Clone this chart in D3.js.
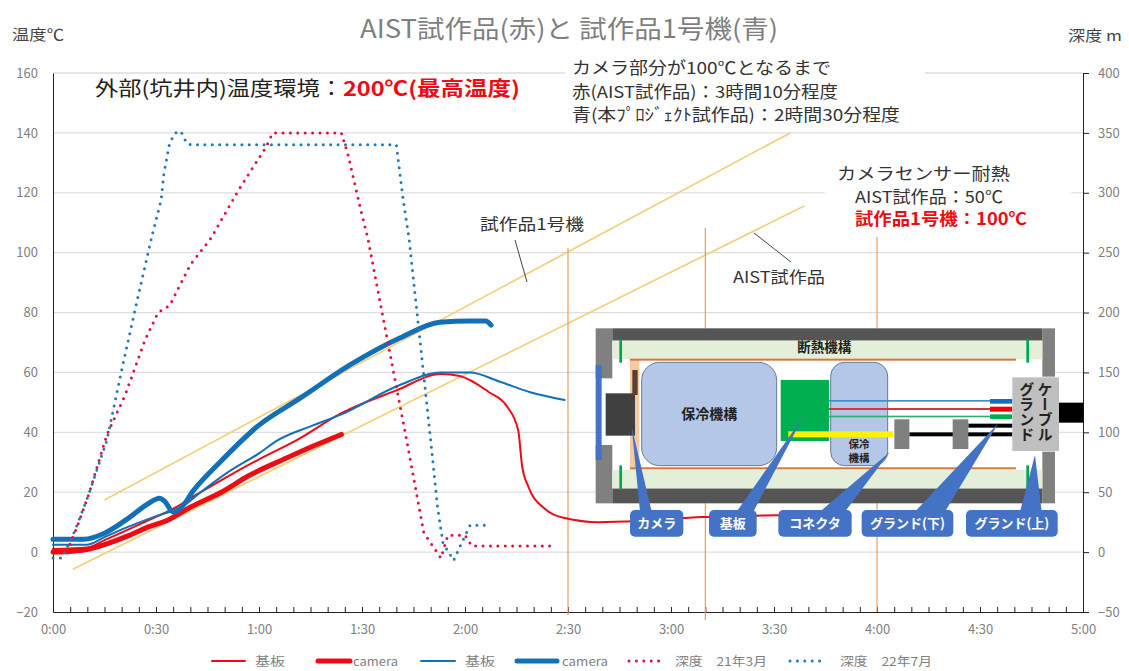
<!DOCTYPE html>
<html><head><meta charset="utf-8">
<script src="https://cdn.jsdelivr.net/npm/d3@7"></script>
<style>html,body{margin:0;background:#fff}svg{display:block}text{font-family:"Noto Sans CJK JP","Noto Sans",sans-serif}</style>
</head><body><svg id="c" width="1129" height="671"></svg>
<script>
// minutes since start / degC
const redBoardT=[0,10,15,26,35,43,52,60,71,84,100,113,118.5,127,132,135.5,136.6,138.4,143,149,159,171,189,217];
const redBoardV=[1,1.5,4,9.7,14.5,20,26,31,37.4,46.4,54,59.5,58.8,53.4,49,40.7,29,22,14.7,11.4,10,10.4,11.7,12.4];
const redCamT=[0,5,9,15,22,28,33,40,49,57,68,76,84];
const redCamV=[0,0.2,0.7,2.5,5.5,8.5,10.5,15,20,25.5,31.4,35.5,39.3];
const blueBoardT=[0,10,15,22,30,38,43,51,60,65.5,75,84,101,113,121.5,130,139,149];
const blueBoardV=[2.5,2.5,5,8.5,12,15.5,20,26.7,33,37.4,42,46,55.8,60,60,57,53.4,50.8];
const blueCamT=[0,9,15,22.4,28,31,32.5,35,37,41,48.6,60,72,86.5,101,112.7,121.5,126,127.6];
const blueCamV=[4.3,4.3,6.3,11.7,16.4,18,17,13.4,14.5,20.7,30,42.4,51.4,62.5,71.5,76.8,77.2,77.2,75.8];
// minutes / metres
const redDepthT=[0,4,7,10.5,15.7,21,26.8,30.6,34,40,46,54,62,64,84,86,89.7,91.7,103,105.7,108,113,115,120,122,146];
const redDepthV=[0,0,21,49,98,131,177,200,206,240,262,302,338,350,350,331,285,262,93.5,52,16,-5,14,14,5,5];
const blueDepthT=[0,2.6,6.4,10.5,15.7,20,24.5,29,31.5,32.3,34,36,37.3,39,40.5,100,102,103.7,110,112,113.6,116.7,119,121.5,126];
const blueDepthV=[-5,-5,18,49,93.5,152,210,266,294,316,342,351,351,341,340,340,294,262,93.5,37.6,7.5,-7,7.5,22.5,22.5];
const yTicks=[-20,0,20,40,60,80,100,120,140,160];
const depthTicks=[-50,0,50,100,150,200,250,300,350,400];
const xTicks=[0,30,60,90,120,150,180,210,240,270,300];
const legendLabels=["基板","camera","基板","camera","深度　21年3月","深度　22年7月"];
const trendUpper=[[15,17.4],[214.7,140]], trendLower=[[5.8,-5.7],[218.8,115.6]];
const markerMinutes=[150,190,240];

const svg=d3.select("#c");
const x=d3.scaleLinear().domain([0,300]).range([53,1083]);
const y=d3.scaleLinear().domain([-20,160]).range([612,73]);
const yd=d3.scaleLinear().domain([-50,400]).range([612,73]);
const gray="#7f7f7f";
const RED="#f00a14", BLUE="#1170b8", DRED="#e0123a", DBLUE="#1f7ab5";

// grid
svg.append("g").selectAll("line").data(yTicks.filter(d=>d>-20)).join("line")
 .attr("x1",53).attr("x2",1083).attr("y1",d=>y(d)).attr("y2",d=>y(d)).attr("stroke","#dedede").attr("stroke-width",1.3);

// axes
const fmt=m=>Math.floor(m/60)+":"+String(m%60).padStart(2,"0");
function style(g){g.selectAll("text").attr("fill",gray).style("font-size","13px");g.selectAll("path,line").attr("stroke","#222");}
svg.append("g").attr("transform","translate(53,0)").call(d3.axisLeft(y).tickValues(yTicks).tickSize(0).tickPadding(15)).call(style);
svg.append("g").attr("transform","translate(1083,0)").call(d3.axisRight(yd).tickValues(depthTicks).tickSize(6).tickSizeOuter(0).tickPadding(9)).call(style);
svg.append("g").attr("transform","translate(0,612)").call(d3.axisBottom(x).tickValues(d3.range(0,301,5)).tickSize(-5).tickSizeOuter(0).tickFormat(()=>"" )).call(style);
svg.append("g").attr("transform","translate(0,612)").call(d3.axisBottom(x).tickValues(xTicks).tickSize(0).tickPadding(13).tickFormat(fmt)).call(style).select("path").remove();

// trend lines
const line=(sy,curve)=>d3.line().x(d=>x(d[0])).y(d=>sy(d[1])).curve(curve||d3.curveLinear);
[trendUpper,trendLower].forEach(t=>svg.append("path").attr("d",line(y)(t)).attr("fill","none").attr("stroke","#f3cf78").attr("stroke-width",1.7));

// marker lines
const markerTops=[248,228,237];
svg.append("g").selectAll("line").data(markerMinutes).join("line").attr("x1",d=>x(d)).attr("x2",d=>x(d))
 .attr("y1",(d,i)=>markerTops[i]).attr("y2",(d,i)=>[615,620,612][i]).attr("stroke","#ee9a5a").attr("stroke-width",1.2);

// white text backgrounds
svg.append("rect").attr("x",565).attr("y",58).attr("width",360).attr("height",68).attr("fill","#fff");
svg.append("rect").attr("x",825).attr("y",160).attr("width",246).attr("height",70).attr("fill","#fff");

// series
const series=[
 {t:redBoardT,v:redBoardV,s:y,c:RED,w:2},
 {t:blueBoardT,v:blueBoardV,s:y,c:BLUE,w:2},
 {t:redCamT,v:redCamV,s:y,c:RED,w:5},
 {t:blueCamT,v:blueCamV,s:y,c:BLUE,w:5},
 {t:redDepthT,v:redDepthV,s:yd,c:DRED,w:3,dot:1},
 {t:blueDepthT,v:blueDepthV,s:yd,c:DBLUE,w:3,dot:1}];
series.forEach(o=>{
 const p=svg.append("path").datum(o.t.map((t,i)=>[t,o.v[i]])).attr("d",line(o.s,o.dot?null:d3.curveMonotoneX)).attr("fill","none")
  .attr("stroke",o.c).attr("stroke-width",o.w).attr("stroke-linejoin","round").attr("stroke-linecap","round");
 if(o.dot)p.attr("stroke-dasharray","0 7.4");
});

// text helper: opt.w stretches the text to the measured width
function T(px,py,str,size,fill,opt={}){
 const t=svg.append("text").attr("x",px).attr("y",py).attr("font-size",size).attr("fill",fill)
  .attr("font-weight",opt.b?"bold":null).attr("text-anchor",opt.a||"start").text(str);
 if(opt.w)t.attr("textLength",opt.w).attr("lengthAdjust","spacingAndGlyphs");
 return t;
}
T(569,38,"AIST試作品(赤)と 試作品1号機(青)",25,gray,{a:"middle",w:418});
T(12,40,"温度℃",14.5,"#444",{w:52});
T(1068,41,"深度 m",14.5,"#444",{w:54});
T(95,96,"外部(坑井内)温度環境：",20,"#222",{w:248});
T(343,96,"200℃(最高温度)",20,"#f00a14",{b:1,w:177});
T(572,74,"カメラ部分が100℃となるまで",16.5,"#333",{w:259});
T(572,98,"赤(AIST試作品)：3時間10分程度",16.5,"#333",{w:266});
T(572,121,"青(本ﾌﾟﾛｼﾞｪｸﾄ試作品)：2時間30分程度",16.5,"#333",{w:328});
T(837,180,"カメラセンサー耐熱",16.5,"#333",{w:173});
T(855,203,"AIST試作品：50℃",16.5,"#333",{w:148});
T(855,225,"試作品1号機：100℃",16.5,"#f00a14",{b:1,w:172});
T(480,230,"試作品1号機",16,"#333",{w:104});
T(733,283,"AIST試作品",16,"#333",{w:92});
svg.append("line").attr("x1",515).attr("y1",240).attr("x2",527).attr("y2",282).attr("stroke","#444");
svg.append("line").attr("x1",754).attr("y1",233).attr("x2",791).attr("y2",262).attr("stroke","#444");

// inset diagram, in the diagram's own units
const ix=d3.scaleLinear().domain([0,1500]).range([590,1090]);
const iy=d3.scaleLinear().domain([0,690]).range([320,550]);
const g=svg.append("g");
function R(x0,y0,x1,y1,fill,rx,stroke){
 return g.append("rect").attr("x",ix(x0)).attr("y",iy(y0)).attr("width",ix(x1)-ix(x0)).attr("height",iy(y1)-iy(y0))
  .attr("fill",fill).attr("rx",rx||0).attr("stroke",stroke||"none");
}
const pane=[[17,25,1395,550,"#fff"],[17,25,67,175,"#808080"],[17,375,67,550,"#808080"],[1357,25,1395,170,"#808080"],[1357,395,1395,550,"#808080"],
 [67,25,1357,62,"#555"],[67,505,1357,550,"#555"],[67,62,1357,118,"#e4efd9"],[67,450,1357,505,"#e4efd9"],
 [120,118,148,448,"#f6c9a5"],[120,116,1278,122,"#d8763a"],[120,442,1278,448,"#d8763a"],
 [88,58,96,128,"#00a651"],[1309,58,1317,128,"#00a651"],[88,436,96,510,"#00a651"],[1309,436,1317,510,"#00a651"]];
pane.forEach(a=>R(...a));
R(155,127,560,437,"#b4c7e7",18,"#6b7a90");
R(722,127,893,437,"#b4c7e7",14,"#6b7a90");
[[572,180,717,363,"#00b050"],[47,220,135,347,"#404040"],[127,150,143,225,"#5b4030"],[17,135,35,420,"#4472c4"],
 [717,240,1200,245,"#3f8fc8"],[717,264,1200,270,"#d8343c"],[717,287,1200,292,"#2fae6d"],
 [1200,237,1267,251,"#0f6fc0"],[1200,260,1267,275,"#f00000"],[1200,283,1267,297,"#00b050"],
 [595,334,910,352,"#fff200"],[958,337,1267,349,"#000"],[1135,311,1267,323,"#000"],
 [913,298,958,387,"#808080"],[1088,298,1135,387,"#808080"],
 [1267,172,1407,393,"#bfbfbf"],[1407,248,1480,308,"#000"]].forEach(a=>R(...a));

const tris=[[125,320,150,185],[640,290,440,490],[900,395,690,765],[1225,310,975,1065],[1335,405,1290,1355]];
const boxes=[[120,280,"カメラ"],[357,500,"基板"],[565,785,"コネクタ"],[815,1090,"グランド(下)"],[1128,1403,"グランド(上)"]];
tris.forEach(t=>g.append("polygon").attr("points",[[t[0],t[1]],[t[2],575],[t[3],575]].map(p=>[ix(p[0]),iy(p[1])].join(",")).join(" ")).attr("fill","#4472c4"));
boxes.forEach(b=>{
 R(b[0],570,b[1],650,"#4472c4",5);
 g.append("text").attr("x",ix((b[0]+b[1])/2)).attr("y",iy(610)+5).attr("text-anchor","middle").attr("font-size",13).attr("font-weight","bold").attr("fill","#fff").text(b[2]);
});
const inLabel=(xx,yy,s,fs)=>g.append("text").attr("x",ix(xx)).attr("y",iy(yy)).attr("text-anchor","middle").attr("font-size",fs).attr("font-weight","bold").attr("fill","#222").text(s);
inLabel(703,97,"断熱機構",13.5);
inLabel(358,297,"保冷機構",14);
inLabel(807,383,"保冷",10.5);
inLabel(807,425,"機構",10.5);
[[1365,"ケーブル"],[1310,"グランド"]].forEach(a=>{
 g.append("text").attr("transform",`translate(${ix(a[0])},${iy(185)})`).style("writing-mode","vertical-rl")
  .attr("font-size",15).attr("font-weight","bold").attr("fill","#222").attr("letter-spacing",0).text(a[1]);
});

// legend
const lx=[[212,245,255,30],[318,350,353,45],[421,455,465,30],[517,557,562,46],[629,665,675,92],[790,825,840,92]];
[0,2,1,3,4,5].map(i=>series[i]).forEach((s,i)=>{
 const l=svg.append("line").attr("x1",lx[i][0]).attr("x2",lx[i][1]).attr("y1",661).attr("y2",661)
  .attr("stroke",s.c).attr("stroke-width",s.w).attr("stroke-linecap","round");
 if(s.dot)l.attr("stroke-dasharray","0 7.4");
 T(lx[i][2],665.5,legendLabels[i],12,gray,{w:lx[i][3]});
});
</script></body></html>
